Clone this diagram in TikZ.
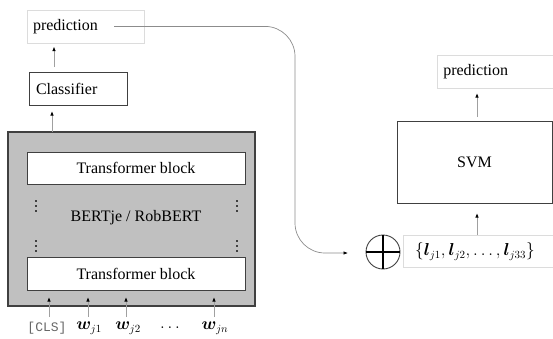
\documentclass[tikz,border=0pt]{standalone}
\usepackage{fontspec}
\setmainfont{Liberation Serif}
\newfontfamily\monofont{Liberation Mono}
\usepackage{amsmath}
\usepackage{bm}
\usetikzlibrary{arrows.meta}
\definecolor{boxgray}{HTML}{C0C0C0}
\definecolor{edgegray}{HTML}{404040}
\definecolor{linegray}{HTML}{A0A0A0}
\definecolor{faintgray}{HTML}{DCDCDC}
\definecolor{curvegray}{HTML}{8C8C8C}
\begin{document}
\begin{tikzpicture}[x=1pt,y=-1pt,
  every node/.style={font=\fontsize{16}{19}\selectfont, inner sep=0pt},
  textbox/.style={draw=faintgray, line width=0.6pt, minimum height=33pt, text width=#1, align=left, inner xsep=6pt},
  solidbox/.style={draw=edgegray, line width=1pt, fill=white},
  arr/.style={draw=linegray, line width=0.9pt, -{Latex[length=4.5pt,width=3.5pt,black]}},
  dotmark/.style={fill=edgegray}
]
\useasboundingbox (0,0) rectangle (553,338);

% left column
\node[textbox=105pt, anchor=north west] (predL) at (26.7,10) {prediction};
\coordinate (curvestart) at (114,26.4);
\node[solidbox, minimum width=98pt, minimum height=33pt, text width=84pt, align=left, inner xsep=7pt] (clf) at (78,88.5) {Classifier};

\node[draw=edgegray, line width=1.2pt, fill=boxgray, minimum width=247pt, minimum height=174pt] (bert) at (131.5,219) {};
\node[solidbox, minimum width=218pt, minimum height=32pt] (tb1) at (136,168) {Transformer block};
\node[solidbox, minimum width=218pt, minimum height=33pt] (tb2) at (136,273.5) {Transformer block};
\node (bertlabel) at (136,218) {BERTje / RobBERT};

\foreach \x in {36,237}{
  \foreach \y in {201,206,211,241,246,251}{
    \fill[dotmark] (\x-0.9,\y-0.9) rectangle (\x+0.9,\y+0.9);
  }
}

% inputs
\node (in1) at (47,328) {\monofont\fontsize{13}{15}\selectfont\color{black!60}[CLS]};
\node (in2) at (89,328) {$\bm{w}_{j1}$};
\node (in3) at (128,328) {$\bm{w}_{j2}$};
\node (in4) at (170,328) {$\ldots$};
\node (in5) at (215,328) {$\bm{w}_{jn}$};
\foreach \x/\n in {49/in1,88/in2,126/in3,214/in5}{
  \coordinate (s\n) at (\x,317);
  \coordinate (t\n) at (\x,297);
  \draw[arr] (s\n) -- (t\n);
}

\coordinate (a1s) at (52,132);
\coordinate (a1t) at (52,111);
\draw[arr] (a1s) -- (a1t);
\coordinate (a2s) at (54,67);
\coordinate (a2t) at (54,46.5);
\draw[arr] (a2s) -- (a2t);

% right column
\node[textbox=104pt, anchor=north west, minimum height=33pt] (predR) at (437,55) {prediction};
\node[solidbox, minimum width=155pt, minimum height=82pt] (svm) at (474.5,162) {SVM};
\node[draw=faintgray, line width=0.6pt, fill=white, minimum width=152pt, minimum height=32pt, anchor=north west] (feat) at (403,235) {};
\node (featlabel) at (475,251.5) {$\{\bm{l}_{j1}, \bm{l}_{j2}, \ldots, \bm{l}_{j33}\}$};

\node[draw=edgegray, line width=0.9pt, circle, minimum size=34pt, fill=white] (plus) at (383,252) {};
\draw[line width=1.6pt, black] (plus.north) -- (plus.south);
\draw[line width=1.6pt, black] (plus.west) -- (plus.east);

\coordinate (a3s) at (477,117);
\coordinate (a3t) at (477,93);
\draw[arr] (a3s) -- (a3t);
\coordinate (a4s) at (477,235);
\coordinate (a4t) at (477,213);
\draw[arr] (a4s) -- (a4t);

\coordinate (curveend) at (348,253);
\draw[draw=curvegray, line width=0.7pt, rounded corners=30pt, -{Latex[length=4.5pt,width=3.5pt,black]}]
  (curvestart) -- (295,26.4) -- (295,253) -- (curveend);
\end{tikzpicture}
\end{document}
